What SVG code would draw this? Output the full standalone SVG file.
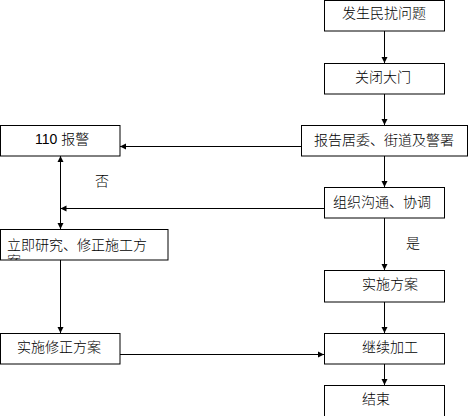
<svg xmlns="http://www.w3.org/2000/svg" width="468" height="416" viewBox="0 0 468 416">
<style>
.box{fill:#fff;stroke:#000;stroke-width:1}
.t{font-family:"Liberation Sans","Noto Sans CJK SC",sans-serif;font-size:14px;font-weight:300;fill:#000}
.c{fill:none;stroke:#000;stroke-width:1}
</style>
<defs>
<marker id="ah" markerWidth="8" markerHeight="8" refX="7" refY="4" orient="auto" markerUnits="userSpaceOnUse">
<path d="M1,1 L7,4 L1,7 Z" fill="#000"/>
</marker>
<clipPath id="clipL"><rect x="0" y="229" width="168" height="31"/></clipPath>
</defs>
<rect width="468" height="416" fill="#fff"/>
<g id="connectors">
<line class="c" x1="384.5" y1="31" x2="384.5" y2="63" marker-end="url(#ah)"/>
<line class="c" x1="384.5" y1="94" x2="384.5" y2="125" marker-end="url(#ah)"/>
<line class="c" x1="301" y1="146.5" x2="120" y2="146.5" marker-end="url(#ah)"/>
<line class="c" x1="384.5" y1="156" x2="384.5" y2="187" marker-end="url(#ah)"/>
<line class="c" x1="324" y1="208.5" x2="60.5" y2="208.5" marker-end="url(#ah)"/>
<line class="c" x1="60.5" y1="190" x2="60.5" y2="156" marker-end="url(#ah)"/>
<line class="c" x1="60.5" y1="190" x2="60.5" y2="229" marker-end="url(#ah)"/>
<line class="c" x1="384.5" y1="218" x2="384.5" y2="270" marker-end="url(#ah)"/>
<line class="c" x1="384.5" y1="302" x2="384.5" y2="333" marker-end="url(#ah)"/>
<line class="c" x1="60.5" y1="260" x2="60.5" y2="333" marker-end="url(#ah)"/>
<line class="c" x1="120" y1="354.5" x2="324" y2="354.5" marker-end="url(#ah)"/>
<line class="c" x1="384.5" y1="364" x2="384.5" y2="385" marker-end="url(#ah)"/>
<text class="t" x="95" y="186">否</text>
<text class="t" x="406" y="248">是</text>
</g>
<g id="n1"><rect class="box" x="324.5" y="0.5" width="120" height="30.5"/><text class="t" x="342" y="18">发生民扰问题</text></g>
<g id="n2"><rect class="box" x="324.5" y="63.5" width="120" height="30.5"/><text class="t" x="355" y="82">关闭大门</text></g>
<g id="n3"><rect class="box" x="301.5" y="125.5" width="166" height="30.5"/><text class="t" x="314" y="145">报告居委、街道及警署</text></g>
<g id="n4"><rect class="box" x="324.5" y="187.5" width="120" height="30.5"/><text class="t" x="333" y="207">组织沟通、协调</text></g>
<g id="n5"><rect class="box" x="324.5" y="270.5" width="120" height="31.5"/><text class="t" x="362" y="289">实施方案</text></g>
<g id="n6"><rect class="box" x="324.5" y="333.5" width="120" height="30.5"/><text class="t" x="362" y="352">继续加工</text></g>
<g id="n7"><rect class="box" x="324.5" y="385.5" width="120" height="40"/><text class="t" x="362" y="404">结束</text></g>
<g id="n8"><rect class="box" x="0.5" y="125.5" width="119.5" height="30.5"/><text class="t" x="35" y="144">110 报警</text></g>
<g id="n9"><rect class="box" x="0.5" y="229.5" width="167.5" height="30.5"/><g clip-path="url(#clipL)"><text class="t" x="7" y="250">立即研究、修正施工方</text><text class="t" x="7" y="266">案</text></g></g>
<g id="n10"><rect class="box" x="0.5" y="333.5" width="119.5" height="30.5"/><text class="t" x="17" y="352">实施修正方案</text></g>
</svg>
